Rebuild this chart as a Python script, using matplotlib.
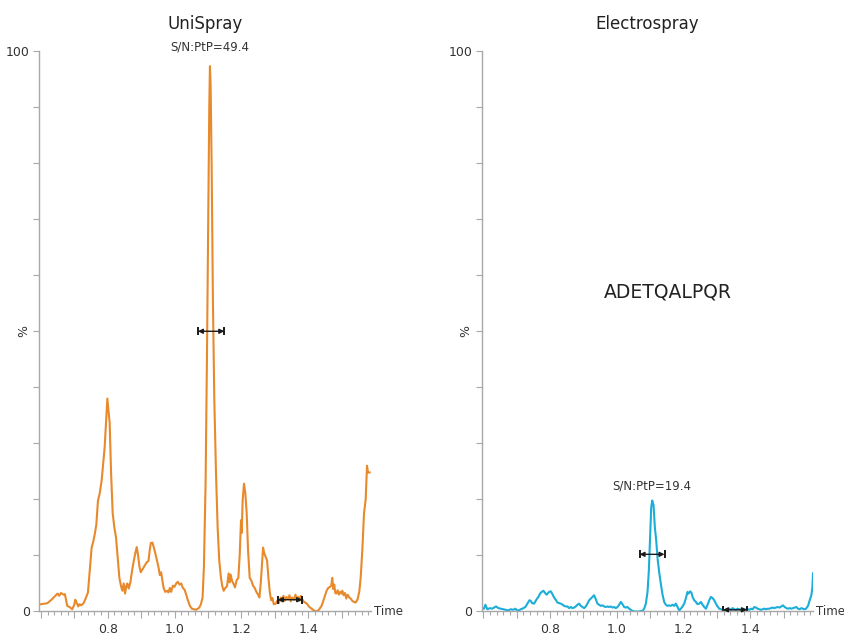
import matplotlib
matplotlib.use("Agg")
import matplotlib.pyplot as plt
from matplotlib.ticker import MultipleLocator, FixedLocator

# UniSpray trace (time, % intensity)
uni_time = [0.600, 0.612, 0.62, 0.63, 0.64, 0.65, 0.655, 0.66, 0.668, 0.672, 0.679, 0.686,
            0.694, 0.70, 0.703, 0.707, 0.712, 0.716, 0.72, 0.727, 0.734, 0.741, 0.746,
            0.752, 0.757, 0.762, 0.766, 0.771, 0.776, 0.782, 0.786, 0.791, 0.795, 0.799,
            0.803, 0.806, 0.81, 0.815, 0.82, 0.825, 0.83, 0.835, 0.84, 0.844, 0.848,
            0.852, 0.856, 0.859, 0.863, 0.868, 0.873, 0.878, 0.883, 0.887, 0.891, 0.895,
            0.899, 0.905, 0.911, 0.917, 0.922, 0.926, 0.929, 0.934, 0.94, 0.946, 0.952,
            0.956, 0.96, 0.964, 0.967, 0.972, 0.978, 0.982, 0.986, 0.99, 0.995, 1.0,
            1.005, 1.01, 1.015, 1.02, 1.025, 1.03, 1.034, 1.04, 1.046, 1.052, 1.058,
            1.064, 1.07, 1.074, 1.079, 1.084, 1.088, 1.093, 1.097, 1.101, 1.104, 1.106,
            1.108, 1.111, 1.115, 1.119, 1.124, 1.129, 1.134, 1.139, 1.143, 1.147, 1.152,
            1.157, 1.162, 1.165, 1.168, 1.172, 1.176, 1.181, 1.186, 1.191, 1.195, 1.199,
            1.201, 1.204, 1.208, 1.212, 1.216, 1.22, 1.225, 1.23, 1.235, 1.239, 1.245,
            1.25, 1.254, 1.258, 1.262, 1.265, 1.268, 1.271, 1.277, 1.281, 1.285, 1.289,
            1.293, 1.297, 1.303, 1.308, 1.312, 1.318, 1.322, 1.326, 1.33, 1.335, 1.34,
            1.344, 1.348, 1.352, 1.357, 1.362, 1.366, 1.37, 1.374, 1.378, 1.382, 1.386,
            1.391, 1.396, 1.402, 1.41, 1.417, 1.425, 1.432, 1.44, 1.448, 1.455, 1.46,
            1.465, 1.469, 1.472, 1.475, 1.478, 1.481, 1.484, 1.488, 1.492, 1.496, 1.5,
            1.502, 1.506, 1.51, 1.514, 1.518, 1.523, 1.527, 1.532, 1.537, 1.542, 1.548,
            1.553, 1.557, 1.562, 1.567, 1.572, 1.576, 1.579, 1.584]
uni_signal = [1.3, 1.4, 1.5, 2.0, 2.6, 3.2, 2.8, 3.3, 3.0, 3.1, 1.0, 0.8,
              0.4, 1.2, 2.1, 1.6, 0.9, 1.3, 1.1, 1.4, 2.3, 3.4, 7.0,
              11.4, 12.5, 14.0, 15.5, 19.8, 21.0, 23.4, 26.0, 29.3, 33.5, 38.0,
              35.5, 33.6, 25.0, 17.5, 15.0, 13.2, 9.5, 6.0, 4.5, 3.7, 5.0,
              3.2, 4.6, 5.0, 4.1, 5.2, 7.3, 9.0, 10.5, 11.5, 10.0, 8.0,
              7.0, 7.6, 8.2, 8.8, 9.0, 11.0, 12.2, 12.3, 11.0, 9.5, 7.9,
              6.5, 7.0, 5.5, 4.3, 3.5, 3.7, 3.4, 4.2, 3.5, 4.6, 4.4,
              5.0, 5.3, 4.8, 5.0, 4.2, 3.9, 3.2, 2.0, 1.0, 0.5, 0.4,
              0.3, 0.5, 0.7, 1.3, 2.5, 8.0, 23.0, 45.0, 70.0, 90.0, 97.3,
              94.0, 80.0, 55.0, 38.0, 25.0, 15.0, 9.0, 6.0, 4.5, 3.7, 4.2,
              4.5, 6.8, 5.2, 6.6, 5.5, 5.0, 4.3, 5.6, 6.0, 10.0, 16.3,
              14.0, 20.0, 22.8, 21.0, 17.5, 11.0, 6.0, 5.5, 4.6, 4.3, 3.5,
              3.0, 2.5, 5.0, 8.5, 11.4, 10.5, 10.0, 9.1, 6.0, 3.5, 2.0,
              2.4, 1.3, 1.4, 2.0, 1.5, 2.5, 1.8, 2.8, 1.9, 2.6, 2.2,
              2.9, 1.8, 2.5, 2.1, 3.0, 2.0, 2.6, 1.9, 2.8, 2.2, 1.8,
              1.6, 1.4, 0.9, 0.5, 0.2, 0.0, 0.3, 1.0, 2.4, 3.7, 4.2,
              4.4, 4.6, 6.0, 4.0, 4.8, 3.3, 3.2, 3.8, 3.0, 3.5, 3.2,
              3.7, 2.9, 3.3, 2.3, 3.0, 2.5, 2.3, 1.9, 1.7, 1.6, 2.2,
              3.6, 6.0, 11.0, 17.5, 20.0, 26.0, 24.8, 24.8]

# Electrospray trace (time, % intensity)
esi_time = [0.597, 0.602, 0.606, 0.612, 0.62, 0.627, 0.632, 0.638, 0.645, 0.652, 0.66,
            0.667, 0.675, 0.682, 0.69, 0.696, 0.701, 0.707, 0.712, 0.717, 0.72, 0.726,
            0.732, 0.738, 0.742, 0.746, 0.752, 0.757, 0.761, 0.765, 0.77, 0.775, 0.78,
            0.785, 0.79, 0.794, 0.797, 0.802, 0.807, 0.812, 0.818, 0.822, 0.827, 0.832,
            0.838, 0.842, 0.847, 0.852, 0.857, 0.862, 0.867, 0.872, 0.877, 0.882, 0.887,
            0.892, 0.897, 0.902, 0.907, 0.912, 0.917, 0.922, 0.927, 0.932, 0.937, 0.942,
            0.947, 0.952, 0.957, 0.962, 0.967, 0.972, 0.977, 0.982, 0.987, 0.992, 0.997,
            1.002, 1.007, 1.012, 1.017, 1.022, 1.027, 1.032, 1.037, 1.042, 1.047, 1.055,
            1.062, 1.068, 1.072, 1.077, 1.082, 1.087, 1.092, 1.096, 1.100, 1.103, 1.106,
            1.110, 1.114, 1.118, 1.122, 1.127, 1.132, 1.137, 1.142, 1.147, 1.152, 1.157,
            1.162, 1.167, 1.172, 1.177, 1.182, 1.187, 1.192, 1.197, 1.202, 1.207, 1.212,
            1.215, 1.22, 1.224, 1.227, 1.232, 1.237, 1.242, 1.247, 1.252, 1.257, 1.262,
            1.267, 1.272, 1.277, 1.282, 1.287, 1.292, 1.297, 1.302, 1.307, 1.312, 1.317,
            1.322, 1.327, 1.332, 1.337, 1.342, 1.347, 1.352, 1.357, 1.362, 1.367, 1.372,
            1.377, 1.382, 1.387, 1.392, 1.397, 1.402, 1.407, 1.412, 1.417, 1.422, 1.427,
            1.432, 1.437, 1.442, 1.447, 1.452, 1.457, 1.462, 1.467, 1.472, 1.477, 1.482,
            1.488, 1.493, 1.498, 1.503, 1.508, 1.513, 1.518, 1.523, 1.528, 1.533, 1.538,
            1.543, 1.548, 1.553, 1.558, 1.562, 1.567, 1.573, 1.578, 1.583, 1.586, 1.588]
esi_signal = [0.5, 0.5, 1.2, 0.4, 0.6, 0.5, 0.7, 0.9, 0.6, 0.5, 0.4,
              0.3, 0.2, 0.4, 0.3, 0.5, 0.2, 0.2, 0.4, 0.5, 0.6, 0.8,
              1.4, 2.0, 1.9, 1.5, 1.4, 1.9, 2.3, 2.6, 3.2, 3.5, 3.7,
              3.3, 3.0, 3.3, 3.5, 3.6, 3.1, 2.5, 2.0, 1.6, 1.5, 1.4,
              1.2, 1.0, 0.9, 0.9, 0.6, 0.8, 0.6, 0.7, 0.9, 1.2, 1.4,
              1.0, 0.8, 0.6, 0.9, 1.4, 2.0, 2.3, 2.6, 2.9, 2.2, 1.4,
              1.2, 1.0, 1.1, 0.9, 0.8, 0.9, 0.8, 0.9, 0.7, 0.8, 0.6,
              0.8, 1.2, 1.7, 1.3, 0.8, 0.7, 0.8, 0.5, 0.3, 0.1, 0.0,
              0.0, 0.0, 0.1, 0.1, 0.5, 1.4, 3.5, 7.3, 14.0, 18.5, 19.8,
              19.0, 15.0, 12.7, 9.5, 7.0, 4.9, 3.0, 1.7, 1.2, 1.0, 1.1,
              1.0, 1.2, 1.0, 1.4, 0.8, 0.2, 0.5, 0.9, 1.4, 2.4, 3.5,
              3.2, 3.6, 3.3, 2.6, 2.0, 1.7, 1.3, 1.4, 1.7, 1.2, 0.8,
              0.5, 1.2, 2.0, 2.6, 2.4, 2.0, 1.4, 0.9, 0.5, 0.4, 0.3,
              0.2, 0.2, 0.4, 0.5, 0.3, 0.6, 0.4, 0.3, 0.5, 0.4, 0.3,
              0.5, 0.4, 0.3, 0.4, 0.3, 0.5, 0.4, 0.8, 0.7, 0.5, 0.4,
              0.3, 0.4, 0.5, 0.4, 0.5, 0.5, 0.6, 0.7, 0.6, 0.7, 0.8,
              0.7, 0.9, 1.1, 0.8, 0.6, 0.5, 0.6, 0.5, 0.6, 0.7, 0.8,
              0.5, 0.4, 0.6, 0.5, 0.4, 0.5, 1.0, 2.0, 2.9, 4.3, 6.8]

titles = ["UniSpray", "Electrospray"]
sn_labels = ["S/N:PtP=49.4", "S/N:PtP=19.4"]
peptide = "ADETQALPQR"

# peak-width and noise-window markers: (start, end, level)
uni_marks = [(1.070, 1.149, 50.0), (1.309, 1.382, 2.1)]
esi_marks = [(1.068, 1.143, 10.2), (1.318, 1.390, 0.3)]
sn_label_y = [99.5, 21.3]

x_min, x_max = 0.596, 1.588
x_labels = {0.8: "0.8", 1.0: "1.0", 1.2: "1.2", 1.4: "1.4"}

ORANGE = "#E8892C"
BLUE = "#1CADD8"
AXIS_GRAY = "#A8A8A8"
TEXT = "#333333"

fig = plt.figure(figsize=(8.44, 6.34), dpi=100)
axes = [fig.add_axes([0.0468, 0.0355, 0.3928, 0.884]),
        fig.add_axes([0.5711, 0.0355, 0.3922, 0.884])]

series = [(uni_time, uni_signal, ORANGE, uni_marks),
          (esi_time, esi_signal, BLUE, esi_marks)]

for i, (ax, (t, s, color, marks)) in enumerate(zip(axes, series)):
    ax.plot(t, s, color=color, lw=1.5, solid_joinstyle="round")
    ax.set_xlim(x_min, x_max)
    ax.set_ylim(0, 100)
    ax.patch.set_alpha(0)
    for side in ("top", "right"):
        ax.spines[side].set_visible(False)
    for side in ("left", "bottom"):
        ax.spines[side].set_color(AXIS_GRAY)
        ax.spines[side].set_linewidth(1.0)

    majors = [round(0.6 + 0.1 * k, 1) for k in range(10)]
    ax.xaxis.set_major_locator(FixedLocator(majors))
    ax.set_xticklabels([x_labels.get(m, "") for m in majors])
    ax.xaxis.set_minor_locator(MultipleLocator(0.02))
    ax.set_yticks([0, 50, 100])
    ax.set_yticklabels(["0", "%", "100"])
    ax.get_yticklabels()[1].set_rotation(90)
    ax.get_yticklabels()[1].set_va("center")
    ax.yaxis.set_minor_locator(MultipleLocator(10))
    ax.tick_params(axis="both", which="both", color=AXIS_GRAY, labelcolor=TEXT,
                   labelsize=9, width=0.8)
    ax.tick_params(axis="x", which="major", length=5, pad=3)
    ax.tick_params(axis="x", which="minor", length=3)
    ax.tick_params(axis="y", which="both", length=4, pad=3)

    for x0, x1, lvl in marks:
        ax.annotate("", xy=(x1, lvl), xytext=(x0, lvl),
                    arrowprops=dict(arrowstyle="<|-|>", color="#1a1a1a", lw=1.0,
                                    mutation_scale=7, shrinkA=0, shrinkB=0))
        ax.plot([x0, x1], [lvl, lvl], ls="none", marker="|", ms=6, mew=1.4,
                color="#1a1a1a")

    peak_t = t[s.index(max(s))]
    ax.text(peak_t, sn_label_y[i], sn_labels[i], ha="center", va="bottom",
            fontsize=8.5, color=TEXT)
    ax.text(1.008, 0, "Time", transform=ax.transAxes, ha="left", va="center",
            fontsize=8.5, color=TEXT)
    ax.set_title(titles[i], fontsize=12, color="#222222", pad=16)

axes[1].text(0.56, 0.57, peptide, transform=axes[1].transAxes, ha="center",
             va="center", fontsize=13.5, color="#222222")

fig.savefig("out.png", dpi=100)
